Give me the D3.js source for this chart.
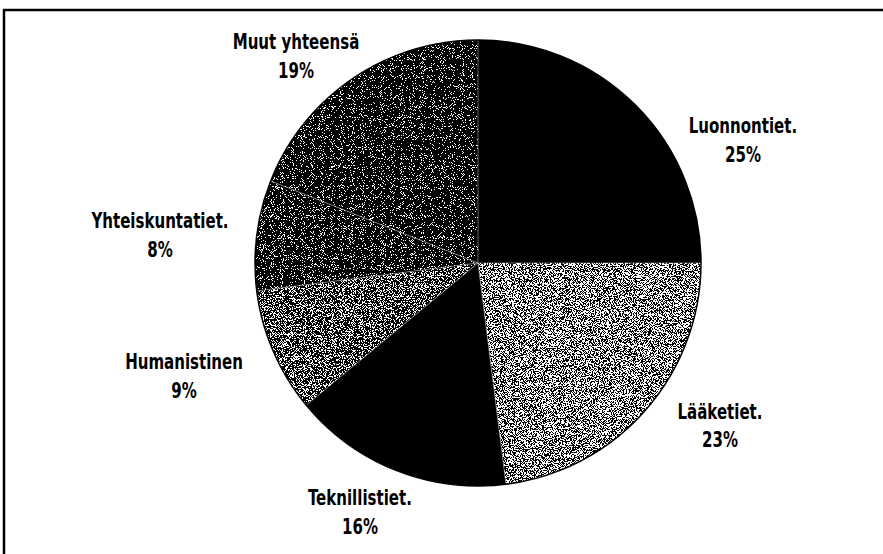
<!DOCTYPE html>
<html>
<head>
<meta charset="utf-8">
<script src="https://cdn.jsdelivr.net/npm/d3@7"></script>
<style>
  body { margin: 0; background: #fff; }
  text { font-family: "DejaVu Sans Condensed", "DejaVu Sans", sans-serif; font-weight: bold; }
</style>
</head>
<body>
<div id="chart"></div>
<script>
// data
const categories = ["Luonnontiet.", "Lääketiet.", "Teknillistiet.", "Humanistinen", "Yhteiskuntatiet.", "Muut yhteensä"];
const shares = [25, 23, 16, 9, 8, 19];
// gray level of each slice (0 = black), halftone dithered
const tones = [0, 0.5, 0, 0.4, 0.24, 0.22];

// label placement around the pie: angle (deg from 12 o'clock) and distance / radius
const labelAngle = [65, 123.8, 205.4, 249.1, 275.2, 318.75];
const labelDist = [1.311, 1.306, 1.234, 1.411, 1.432, 1.238];

const width = 883, height = 554;
const cx = 478, cy = 263, radius = 223;
const condense = 0.76; // the scan uses a condensed face

const svg = d3.select("#chart")
  .append("svg")
  .attr("width", width)
  .attr("height", height);

// halftone-ish grain for the gray slices
const defs = svg.append("defs");
const f = defs.append("filter")
  .attr("id", "grain")
  .attr("x", 0).attr("y", 0).attr("width", 1).attr("height", 1)
  .attr("color-interpolation-filters", "sRGB");
f.append("feTurbulence")
  .attr("type", "fractalNoise")
  .attr("baseFrequency", 1.1)
  .attr("numOctaves", 1)
  .attr("seed", 7)
  .attr("result", "noise");
f.append("feColorMatrix")
  .attr("in", "noise")
  .attr("type", "matrix")
  .attr("values", "1 0 0 0 0  1 0 0 0 0  1 0 0 0 0  0 0 0 0 1")
  .attr("result", "gn");
f.append("feComposite")
  .attr("in", "SourceGraphic")
  .attr("in2", "gn")
  .attr("operator", "arithmetic")
  .attr("k1", 0).attr("k2", 1).attr("k3", 2.4).attr("k4", -1.2)
  .attr("result", "sum");
const ct = f.append("feComponentTransfer").attr("in", "sum").attr("result", "thr");
["feFuncR", "feFuncG", "feFuncB"].forEach(n => ct.append(n).attr("type", "discrete").attr("tableValues", "0 1"));
ct.append("feFuncA").attr("type", "linear").attr("slope", 0).attr("intercept", 1);
f.append("feComposite")
  .attr("in", "thr")
  .attr("in2", "SourceGraphic")
  .attr("operator", "in");

// frame (only top and left edges survive in the scan)
svg.append("path")
  .attr("d", `M4,${height} L4,10 L${width},10`)
  .attr("fill", "none")
  .attr("stroke", "#000")
  .attr("stroke-width", 2.5);

const data = categories.map((c, i) => ({ name: c, value: shares[i], tone: tones[i], la: labelAngle[i], ld: labelDist[i] }));

const pie = d3.pie()
  .value(d => d.value)
  .sort(null);

const arc = d3.arc()
  .innerRadius(0)
  .outerRadius(radius);

const g = svg.append("g")
  .attr("transform", `translate(${cx},${cy})`);

g.selectAll("path.slice")
  .data(pie(data))
  .join("path")
  .attr("class", "slice")
  .attr("d", arc)
  .attr("fill", d => d3.rgb(d.data.tone * 255, d.data.tone * 255, d.data.tone * 255))
  .attr("filter", d => d.data.tone > 0 ? "url(#grain)" : null);

// thin light seams between slices
g.selectAll("line.seam")
  .data(pie(data))
  .join("line")
  .attr("class", "seam")
  .attr("x1", 0).attr("y1", 0)
  .attr("x2", d => radius * Math.sin(d.startAngle))
  .attr("y2", d => -radius * Math.cos(d.startAngle))
  .attr("stroke", "#ccc")
  .attr("stroke-width", 0.7)
  .attr("opacity", 0.7);

g.append("circle")
  .attr("r", radius)
  .attr("fill", "none")
  .attr("stroke", "#000")
  .attr("stroke-width", 1.5);

// labels
const labels = g.selectAll("g.label")
  .data(data)
  .join("g")
  .attr("class", "label")
  .attr("transform", d => {
    const a = d.la * Math.PI / 180, r = d.ld * radius;
    return `translate(${r * Math.sin(a)},${-r * Math.cos(a)}) scale(${condense},1)`;
  })
  .attr("text-anchor", "middle")
  .style("font-size", "22px")
  .attr("fill", "#000");

labels.append("text")
  .attr("y", -6.5)
  .text(d => d.name);

labels.append("text")
  .attr("y", 22.5)
  .text(d => d.value + "%");
</script>
</body>
</html>
